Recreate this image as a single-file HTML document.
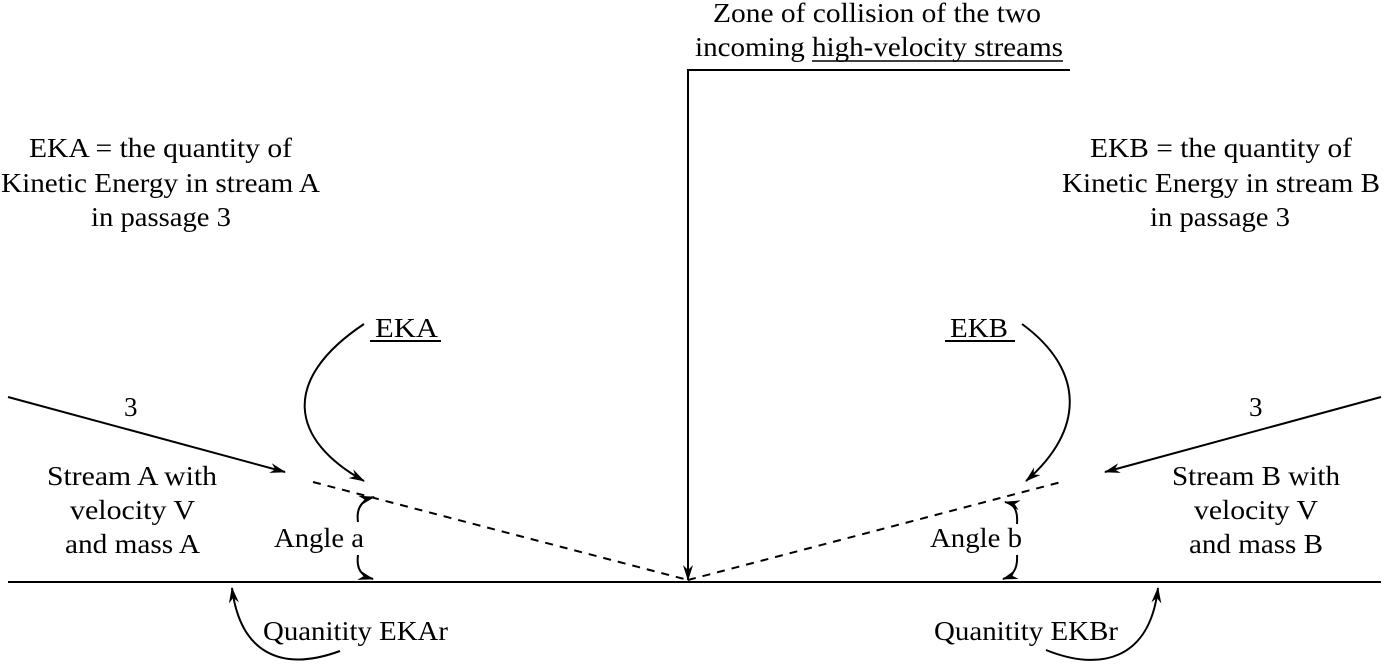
<!DOCTYPE html>
<html><head><style>body{margin:0;background:#fff}svg{display:block}text{font-family:"Liberation Serif",serif;font-size:27px;fill:#000}</style></head>
<body>
<svg width="1389" height="667" viewBox="0 0 1389 667" xmlns="http://www.w3.org/2000/svg">
<defs><marker id="ah" markerWidth="16" markerHeight="10" refX="15" refY="5" orient="auto" markerUnits="userSpaceOnUse"><path d="M0,0 L16,5 L0,10 L5,5 Z" fill="#000"/></marker></defs>
<g stroke="#000" stroke-width="2" fill="none">
<line x1="8" y1="582" x2="1381" y2="582"/>
<polyline points="1070,70 688,70 688,580" marker-end="url(#ah)"/>
<line x1="313" y1="482" x2="688" y2="580" stroke-dasharray="8,7"/>
<line x1="688" y1="580" x2="1065" y2="481" stroke-dasharray="8,7"/>
<line x1="8" y1="397" x2="285" y2="472" marker-end="url(#ah)"/>
<line x1="1381" y1="397" x2="1105" y2="472" marker-end="url(#ah)"/>
<path d="M364,324 C280,380 290,440 364,481" marker-end="url(#ah)"/>
<path d="M1022,324 C1085,370 1085,430 1026,481" marker-end="url(#ah)"/>
<path d="M358,522 C356,508 362,500 374,497" marker-end="url(#ah)"/>
<path d="M358,555 C356,570 362,576 373,579" marker-end="url(#ah)"/>
<path d="M1017,524 C1018,510 1014,504 1005,502" marker-end="url(#ah)"/>
<path d="M1017,555 C1018,570 1012,576 1003,579" marker-end="url(#ah)"/>
<path d="M340,651 C280,673 240,652 232,588" marker-end="url(#ah)"/>
<path d="M1046,650 C1100,672 1150,660 1158,588" marker-end="url(#ah)"/>
<line x1="370" y1="341" x2="441" y2="341"/>
<line x1="945" y1="341" x2="1015" y2="341"/>
<line x1="812" y1="61" x2="1063" y2="61" stroke-width="1.5"/>
</g>
<g lengthAdjust="spacingAndGlyphs">
<text x="713" y="22" textLength="328" lengthAdjust="spacingAndGlyphs">Zone of collision of the two</text>
<text x="695" y="56" textLength="368" lengthAdjust="spacingAndGlyphs">incoming high-velocity streams</text>
<text x="29" y="157" textLength="263" lengthAdjust="spacingAndGlyphs">EKA = the quantity of</text>
<text x="1" y="192" textLength="319" lengthAdjust="spacingAndGlyphs">Kinetic Energy in stream A</text>
<text x="91" y="226" textLength="140" lengthAdjust="spacingAndGlyphs">in passage 3</text>
<text x="1090" y="157" textLength="262" lengthAdjust="spacingAndGlyphs">EKB = the quantity of</text>
<text x="1062" y="192" textLength="318" lengthAdjust="spacingAndGlyphs">Kinetic Energy in stream B</text>
<text x="1150" y="226" textLength="140" lengthAdjust="spacingAndGlyphs">in passage 3</text>
<text x="375" y="337" textLength="63" lengthAdjust="spacingAndGlyphs">EKA</text>
<text x="950" y="337" textLength="58" lengthAdjust="spacingAndGlyphs">EKB</text>
<text x="124" y="416">3</text>
<text x="1249" y="416">3</text>
<text x="47" y="485" textLength="170" lengthAdjust="spacingAndGlyphs">Stream A with</text>
<text x="70" y="519" textLength="125" lengthAdjust="spacingAndGlyphs">velocity V</text>
<text x="65" y="553" textLength="135" lengthAdjust="spacingAndGlyphs">and mass A</text>
<text x="1172" y="485" textLength="168" lengthAdjust="spacingAndGlyphs">Stream B with</text>
<text x="1194" y="519" textLength="124" lengthAdjust="spacingAndGlyphs">velocity V</text>
<text x="1189" y="553" textLength="134" lengthAdjust="spacingAndGlyphs">and mass B</text>
<text x="274" y="547" textLength="90" lengthAdjust="spacingAndGlyphs">Angle a</text>
<text x="930" y="547" textLength="92" lengthAdjust="spacingAndGlyphs">Angle b</text>
<text x="263" y="640" textLength="185" lengthAdjust="spacingAndGlyphs">Quanitity EKAr</text>
<text x="934" y="640" textLength="184" lengthAdjust="spacingAndGlyphs">Quanitity EKBr</text>
</g>
</svg>
</body></html>
